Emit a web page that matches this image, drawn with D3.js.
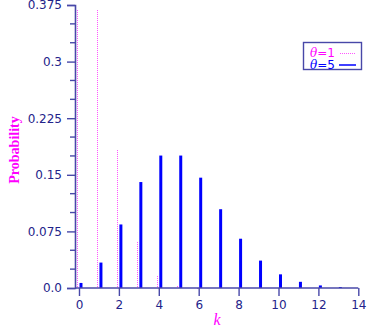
<!DOCTYPE html>
<html>
<head>
<meta charset="utf-8">
<script src="https://cdn.jsdelivr.net/npm/d3@7/dist/d3.min.js"></script>
<style>
  html, body { margin: 0; padding: 0; background: #fff; }
  svg { display: block; }
</style>
</head>
<body>
<svg id="chart" width="384" height="330"></svg>
<script>
// Poisson probabilities for two rates
const kValues1 = [0, 1, 2, 3, 4, 5, 6];
const probTheta1 = [0.3679, 0.3679, 0.1839, 0.0613, 0.0153, 0.0031, 0.0005];
const kValues5 = [0, 1, 2, 3, 4, 5, 6, 7, 8, 9, 10, 11, 12, 13];
const probTheta5 = [0.0067, 0.0337, 0.0842, 0.1404, 0.1755, 0.1755, 0.1462, 0.1044, 0.0653, 0.0363, 0.0181, 0.0082, 0.0034, 0.0013];
const xTicks = [0, 2, 4, 6, 8, 10, 12, 14];
const yTicks = [0, 0.075, 0.15, 0.225, 0.3, 0.375];
const yTickLabels = ["0.0", "0.075", "0.15", "0.225", "0.3", "0.375"];
const yMinorTicks = d3.range(0, 16).map(i => i * 0.025);
const legendLabels = ["=1", "=5"];

const axisColor = "#4848a8";
const labelColor = "#23238a";
const pink = "#ff55ff";
const blue = "#0000ff";

const svg = d3.select("#chart");
const x = d3.scaleLinear().domain([-0.2, 14]).range([75, 358.3]);
const y = d3.scaleLinear().domain([0, 0.375]).range([288, 5]);

// dotted fills: one pink pixel then a gap, vertical and horizontal
const defs = svg.append("defs");
const patV = defs.append("pattern").attr("id", "dotsV")
  .attr("patternUnits", "userSpaceOnUse").attr("width", 1).attr("height", 2);
patV.append("rect").attr("width", 1).attr("height", 1).attr("fill", pink);
const patH = defs.append("pattern").attr("id", "dotsH")
  .attr("patternUnits", "userSpaceOnUse").attr("width", 2).attr("height", 1);
patH.append("rect").attr("width", 1).attr("height", 1).attr("fill", pink);

// pink dotted spikes (theta = 1), shifted left
svg.append("g").attr("shape-rendering", "crispEdges")
  .selectAll("rect").data(kValues1).join("rect")
  .attr("x", (d) => Math.round(x(d - 0.1)))
  .attr("width", 1)
  .attr("y", (d, i) => Math.round(y(probTheta1[i])))
  .attr("height", (d, i) => Math.max(1, Math.round(y(0)) - Math.round(y(probTheta1[i]))))
  .attr("fill", "url(#dotsV)");

// blue solid spikes (theta = 5), shifted right
svg.append("g").selectAll("line").data(kValues5).join("line")
  .attr("x1", (d) => x(d + 0.1)).attr("x2", (d) => x(d + 0.1))
  .attr("y1", y(0)).attr("y2", (d, i) => y(probTheta5[i]))
  .attr("stroke", blue).attr("stroke-width", 3);

// y axis
const yAxis = d3.axisLeft(y).tickValues(yTicks)
  .tickFormat((d, i) => yTickLabels[i]).tickSize(8).tickPadding(5);
const gy = svg.append("g").attr("transform", "translate(75,0)").call(yAxis);
gy.select(".domain").attr("stroke", axisColor).attr("stroke-width", 1.6);
gy.selectAll(".tick line").attr("stroke", axisColor).attr("stroke-width", 1.4);
gy.selectAll(".tick text").attr("fill", labelColor)
  .attr("font-family", "DejaVu Sans, sans-serif").attr("font-size", 12);
gy.append("g").selectAll("line")
  .data(yMinorTicks.filter(v => !yTicks.some(t => Math.abs(t - v) < 1e-9)))
  .join("line")
  .attr("x1", -5).attr("x2", 0).attr("y1", d => y(d)).attr("y2", d => y(d))
  .attr("stroke", axisColor).attr("stroke-width", 1.4);

// x axis
const xAxis = d3.axisBottom(x).tickValues(xTicks).tickSize(8).tickPadding(4);
const gx = svg.append("g").attr("transform", "translate(0,288)").call(xAxis);
gx.select(".domain").attr("stroke", axisColor).attr("stroke-width", 1.6)
  .attr("d", `M${x(-0.2)},0H${x(14)}`);
gx.selectAll(".tick line").attr("stroke", axisColor).attr("stroke-width", 1.4);
gx.selectAll(".tick text").attr("fill", labelColor)
  .attr("font-family", "DejaVu Sans, sans-serif").attr("font-size", 12);

// axis titles
svg.append("text").attr("x", 217).attr("y", 325).attr("text-anchor", "middle")
  .attr("fill", "#ff00ff").attr("font-family", "Liberation Serif, serif")
  .attr("font-style", "italic").attr("font-size", 16).text("k");
svg.append("text").attr("transform", "translate(19,150) rotate(-90)")
  .attr("text-anchor", "middle").attr("fill", "#ff00ff")
  .attr("font-family", "Liberation Serif, serif").attr("font-weight", "bold")
  .attr("font-size", 14).text("Probability");

// legend
const lg = svg.append("g");
lg.append("rect").attr("x", 303.5).attr("y", 42.5).attr("width", 58).attr("height", 27)
  .attr("fill", "#fff").attr("stroke", axisColor).attr("stroke-width", 1.4);
const rows = [
  { label: legendLabels[0], color: "#ff00ff", ty: 57 },
  { label: legendLabels[1], color: blue, ty: 68.5 }
];
rows.forEach((r) => {
  const t = lg.append("text").attr("x", 310).attr("y", r.ty).attr("fill", r.color)
    .attr("font-family", "DejaVu Sans, sans-serif").attr("font-size", 12);
  t.append("tspan").attr("font-family", "DejaVu Serif, serif").attr("font-style", "italic")
    .text("θ");
  t.append("tspan").text(r.label);
});
lg.append("rect").attr("x", 339).attr("y", 53).attr("width", 17).attr("height", 1)
  .attr("shape-rendering", "crispEdges").attr("fill", "url(#dotsH)");
lg.append("line").attr("x1", 339).attr("x2", 356).attr("y1", 65).attr("y2", 65)
  .attr("stroke", blue).attr("stroke-width", 1.5);
</script>
</body>
</html>
